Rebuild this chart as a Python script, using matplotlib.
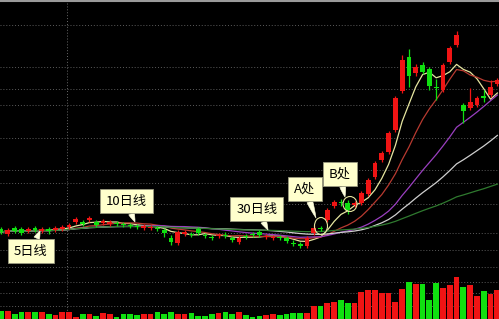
import numpy as np
import pandas as pd
import matplotlib
matplotlib.use('Agg')
import matplotlib.pyplot as plt
from matplotlib.patches import Ellipse

#################################################################
# data
#################################################################

opens = [101, 96, 102, 101, 99, 102, 99, 101, 100, 101, 103, 108, 108, 110, 108, 107, 106, 107, 106, 105,
         104, 102, 102, 102, 100, 92, 87, 96, 96, 101, 95, 93, 94, 95, 92, 88, 94, 96, 98, 93,
         92, 93, 92, 87, 86, 84, 97, 102, 110, 124, 128, 127, 125, 127, 136, 153, 170, 178, 200, 239,
         273, 257, 265, 261, 243, 240, 268, 285, 225, 222, 225, 234, 235, 246]
highs = [103, 102, 104, 103, 103, 104, 103, 103, 104, 105, 107, 113, 110, 114, 110, 111, 110, 109, 108, 107,
         106, 106, 105, 104, 102, 95, 100, 100, 98, 103, 97, 95, 97, 98, 94, 94, 96, 98, 100, 96,
         95, 95, 94, 90, 88, 94, 105, 104, 122, 130, 131, 130, 129, 139, 152, 169, 179, 199, 234, 275,
         281, 266, 268, 263, 251, 267, 284, 299, 227, 242, 234, 240, 250, 252]
lows = [96, 94, 97, 95, 97, 98, 97, 96, 98, 99, 101, 106, 104, 108, 103, 105, 104, 104, 103, 102,
        101, 100, 100, 99, 93, 85, 85, 94, 93, 95, 92, 90, 92, 92, 88, 86, 91, 93, 93, 91,
        90, 90, 87, 84, 82, 82, 95, 99, 108, 122, 124, 116, 123, 125, 134, 151, 168, 176, 198, 237,
        243, 254, 256, 240, 230, 238, 266, 283, 207, 220, 223, 228, 233, 244]
closes = [98, 100, 99, 97, 101, 100, 101, 99, 102, 103, 105, 111, 106, 112, 105, 109, 108, 106, 105, 104,
          103, 104, 103, 101, 97, 88, 98, 98, 95, 97, 94, 92, 95, 94, 90, 92, 93, 95, 95, 94,
          93, 92, 89, 86, 84, 92, 102, 101, 120, 128, 127, 120, 127, 137, 150, 167, 177, 197, 232, 270,
          254, 263, 258, 244, 242, 265, 282, 295, 219, 228, 232, 232, 243, 250]
volume = [8, 8, 5, 7, 7, 7, 7, 5, 4, 7, 7, 2, 5, 5, 3, 6, 5, 2, 5, 5,
          4, 5, 5, 7, 5, 7, 5, 5, 6, 3, 3, 5, 6, 7, 5, 7, 4, 2, 3, 4,
          5, 4, 5, 6, 6, 6, 13, 13, 16, 17, 19, 16, 16, 27, 29, 29, 26, 26, 17, 30,
          37, 35, 35, 19, 36, 31, 34, 42, 32, 34, 23, 28, 25, 29]

ma_days = [5, 10, 20, 30, 60]
ma_colors = ['#e6e6a0', '#b83a30', '#9a3fc0', '#cfcfcf', '#2f7a2f']

labels = ['5日线', '10日线', '30日线', 'A处', 'B处']
# (box centre px, pointer tip px) in picture pixels
label_box = [(31, 251), (126, 201), (257, 209), (305, 189), (340, 174)]
label_tip = [(40, 231), (135, 222), (268, 230), (316, 218), (345, 197)]

RED = '#f01414'
GREEN = '#10e010'

#################################################################
# main
#################################################################

def px(x, y):
	#picture pixel -> data coords of the price axes
	return ((x - 1) / 6.8, 330 - y)

def main():
	plt.rcParams['font.family'] = ['Noto Sans CJK SC', 'DejaVu Sans']
	n = len(closes)
	idx = np.arange(n)
	o = np.array(opens); c = np.array(closes)
	cols = [RED if c[i] >= o[i] else GREEN for i in range(n)]

	fig = plt.figure(figsize=(4.99, 3.19), dpi=100, facecolor='black')
	ax = fig.add_axes([0, 0, 1, 1])
	ax.set_facecolor('black')
	ax.set_xlim(-0.15, 73.24)
	ax.set_ylim(11, 330)
	ax.axis('off')

	#dotted grid
	for gy in [25, 67, 89, 105, 138, 170, 183, 204, 233, 250, 267, 282, 293, 306]:
		ax.axhline(330 - gy, color='#5c5c5c', lw=0.7, ls=(0, (1, 2)), zorder=0)
	ax.axvline(px(67, 0)[0], color='#6a6a6a', lw=0.7, ls=(0, (1, 2)), zorder=0)
	ax.axhline(329.3, color='#9a9a9a', lw=1.5, zorder=0)

	#volume
	axv = fig.add_axes([0, 0, 1, 64 / 319])
	axv.set_xlim(-0.15, 73.24)
	axv.set_ylim(0, 64)
	axv.axis('off')
	axv.patch.set_alpha(0)
	axv.bar(idx, volume, width=0.85, color=cols, zorder=2)

	#candles
	ax.vlines(idx, lows, highs, colors=cols, lw=0.9, zorder=3)
	body = np.maximum(np.abs(c - o), 1)
	ax.bar(idx, body, bottom=np.minimum(o, c), width=0.72, color=cols, zorder=4)

	#moving averages
	s = pd.Series(closes, dtype=float)
	for d, col in zip(ma_days, ma_colors):
		ax.plot(idx, s.rolling(d, min_periods=1).mean(), color=col, lw=0.9, zorder=2)

	#circles at A and B
	for (cx, cy, w, h) in [(321, 226, 13, 17), (350, 204, 14, 15)]:
		ax.add_patch(Ellipse(px(cx, cy), w / 6.8, h, fill=False, ec='#e6e6a0', lw=0.8, zorder=5))

	#callouts
	for t, b, tip in zip(labels, label_box, label_tip):
		ax.annotate(t, xy=px(*tip), xytext=px(*b), ha='center', va='center', fontsize=9.5, color='black',
			bbox=dict(boxstyle='square,pad=0.45', fc='#ffffcc', ec='#9a9a80', lw=0.6),
			arrowprops=dict(arrowstyle='wedge,tail_width=0.45,shrink_factor=0.6', fc='#ffffdd', ec='#ffffdd',
				lw=0.4, shrinkA=0, shrinkB=0),
			zorder=6)

	fig.savefig('out.png', dpi=100, facecolor='black')

if __name__ == "__main__":
	main()
